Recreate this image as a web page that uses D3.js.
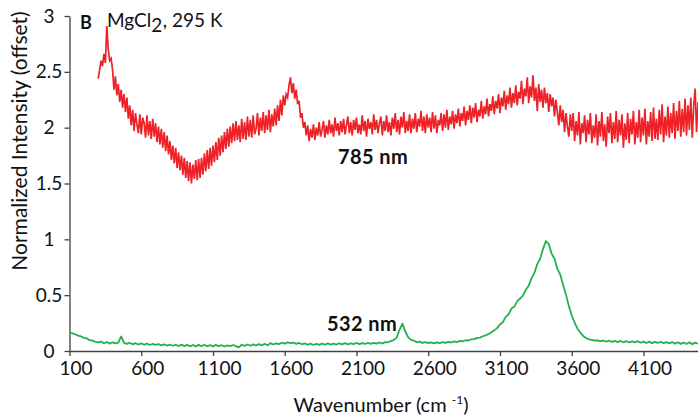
<!DOCTYPE html>
<html>
<head>
<meta charset="utf-8">
<script src="https://cdn.jsdelivr.net/npm/d3@7"></script>
<style>
  html, body { margin: 0; padding: 0; background: #fff; }
  svg { display: block; font-family: Lato, "Open Sans", sans-serif; }
</style>
</head>
<body>
<svg id="chart" width="698" height="420"></svg>
<script>
// Raman spectra of MgCl2 at 295 K, two excitation wavelengths (offset for clarity)

// 785 nm spectrum: sampled every 10 cm-1 starting at 300 cm-1 (one row per 100 cm-1)
const red785Start = 300;
const red785Step = 10;
const red785 = [
  2.44, 2.52, 2.60, 2.55, 2.66, 2.58, 2.91, 2.70, 2.60, 2.62,
  2.52, 2.34, 2.46, 2.29, 2.39, 2.23, 2.34, 2.18, 2.30, 2.14,
  2.27, 2.08, 2.20, 2.02, 2.16, 1.97, 2.13, 2.03, 1.95, 2.12,
  1.94, 2.09, 2.04, 1.91, 2.11, 1.93, 2.06, 1.90, 2.08, 1.92,
  2.04, 1.87, 2.01, 1.85, 1.99, 1.82, 1.96, 1.79, 1.93, 1.76,
  1.88, 1.71, 1.84, 1.68, 1.82, 1.64, 1.78, 1.62, 1.75, 1.58,
  1.73, 1.55, 1.70, 1.52, 1.69, 1.50, 1.67, 1.54, 1.71, 1.53,
  1.72, 1.55, 1.73, 1.58, 1.77, 1.61, 1.80, 1.63, 1.82, 1.66,
  1.84, 1.69, 1.87, 1.71, 1.91, 1.75, 1.93, 1.78, 1.96, 1.81,
  1.99, 1.83, 2.01, 1.86, 2.04, 1.88, 2.06, 1.89, 2.02, 1.87,
  2.08, 1.90, 2.05, 1.89, 2.10, 1.92, 2.07, 1.91, 2.11, 1.94,
  1.99, 2.13, 1.93, 2.09, 1.97, 2.14, 1.95, 2.11, 1.98, 2.16,
  1.96, 2.12, 2.01, 2.17, 2.02, 2.20, 2.06, 2.25, 2.11, 2.29,
  2.20, 2.30, 2.27, 2.38, 2.45, 2.31, 2.40, 2.26, 2.34, 2.21,
  2.24, 2.09, 2.13, 2.00, 2.05, 1.93, 2.02, 1.88, 1.99, 1.91,
  2.03, 1.89, 2.00, 1.93, 2.05, 1.92, 1.98, 2.06, 1.91, 2.02,
  1.94, 2.07, 1.95, 2.03, 1.92, 2.09, 1.97, 2.04, 1.93, 2.06,
  1.96, 2.08, 1.94, 2.02, 2.10, 1.95, 2.05, 1.93, 2.07, 1.98,
  2.09, 1.95, 2.03, 1.94, 2.11, 1.97, 2.06, 1.92, 2.08, 1.99,
  2.05, 1.94, 2.12, 1.98, 2.07, 1.95, 2.04, 2.10, 1.93, 2.06,
  1.97, 2.11, 1.96, 2.05, 1.93, 2.09, 1.99, 2.13, 1.96, 2.07,
  1.94, 2.10, 2.00, 2.14, 1.95, 2.06, 1.97, 2.12, 1.95, 2.08,
  1.99, 2.13, 1.96, 2.08, 2.01, 2.15, 1.97, 2.10, 1.95, 2.12,
  2.00, 2.09, 1.96, 2.14, 1.99, 2.11, 1.95, 2.07, 2.02, 2.13,
  1.97, 2.12, 2.00, 2.16, 1.98, 2.10, 2.03, 2.15, 1.99, 2.12,
  2.04, 2.17, 2.01, 2.13, 2.06, 2.19, 2.02, 2.15, 2.07, 2.20,
  2.04, 2.18, 2.09, 2.22, 2.05, 2.16, 2.10, 2.24, 2.08, 2.19,
  2.12, 2.26, 2.10, 2.21, 2.15, 2.28, 2.12, 2.24, 2.17, 2.30,
  2.13, 2.27, 2.19, 2.33, 2.16, 2.29, 2.21, 2.36, 2.18, 2.31,
  2.22, 2.38, 2.20, 2.32, 2.26, 2.42, 2.21, 2.35, 2.28, 2.45,
  2.22, 2.37, 2.27, 2.47, 2.24, 2.36, 2.15, 2.39, 2.23, 2.34,
  2.18, 2.36, 2.22, 2.31, 2.14, 2.30, 2.19, 2.27, 2.10, 2.25,
  2.14, 2.02, 2.20, 2.05, 2.16, 1.96, 2.13, 2.01, 1.92, 2.12,
  1.97, 2.13, 1.88, 2.06, 1.93, 2.14, 1.85, 2.04, 1.95, 2.11,
  1.87, 2.07, 1.94, 2.13, 1.86, 2.02, 1.91, 2.12, 1.84, 2.06,
  1.92, 2.14, 1.88, 2.03, 1.83, 2.10, 1.95, 2.13, 1.86, 2.05,
  1.90, 2.15, 1.87, 2.07, 1.93, 2.12, 1.82, 2.04, 1.89, 2.13,
  1.86, 2.08, 1.94, 2.15, 1.85, 2.05, 1.91, 2.16, 1.87, 2.09,
  1.93, 2.17, 1.85, 2.06, 1.92, 2.14, 1.88, 2.18, 1.90, 2.08,
  1.89, 2.16, 1.94, 2.21, 1.87, 2.10, 1.93, 2.19, 1.91, 2.13,
  1.95, 2.22, 1.90, 2.15, 1.97, 2.24, 1.92, 2.17, 1.96, 2.26,
  1.93, 2.20, 1.98, 2.27, 1.91, 2.19, 2.35, 1.96, 2.23
];

// 532 nm spectrum: sampled every 20 cm-1 starting at 100 cm-1
const green532Start = 100;
const green532Step = 20;
const green532 = [
  0.165, 0.158, 0.150, 0.138, 0.132, 0.118, 0.112, 0.098, 0.094, 0.082,
  0.078, 0.084, 0.069, 0.080, 0.066, 0.078, 0.068, 0.074, 0.130, 0.072,
  0.064, 0.074, 0.060, 0.070, 0.058, 0.068, 0.056, 0.066, 0.054, 0.064,
  0.055, 0.062, 0.050, 0.060, 0.048, 0.058, 0.047, 0.056, 0.045, 0.057,
  0.044, 0.055, 0.042, 0.054, 0.041, 0.055, 0.043, 0.056, 0.042, 0.054,
  0.040, 0.055, 0.043, 0.052, 0.040, 0.050, 0.044, 0.054, 0.044, 0.032,
  0.056, 0.046, 0.058, 0.047, 0.060, 0.049, 0.062, 0.050, 0.064, 0.052,
  0.070, 0.058, 0.068, 0.062, 0.074, 0.066, 0.078, 0.070, 0.076, 0.064,
  0.072, 0.060, 0.068, 0.056, 0.066, 0.054, 0.064, 0.055, 0.066, 0.056,
  0.068, 0.057, 0.066, 0.058, 0.069, 0.059, 0.070, 0.060, 0.068, 0.061,
  0.072, 0.062, 0.071, 0.063, 0.074, 0.064, 0.073, 0.066, 0.076, 0.068,
  0.080, 0.078, 0.090, 0.098, 0.120, 0.190, 0.245, 0.175, 0.125, 0.100,
  0.092, 0.080, 0.084, 0.072, 0.080, 0.070, 0.078, 0.068, 0.078, 0.070,
  0.080, 0.072, 0.082, 0.076, 0.086, 0.080, 0.090, 0.086, 0.096, 0.094,
  0.105, 0.106, 0.118, 0.120, 0.132, 0.140, 0.152, 0.168, 0.185, 0.205,
  0.238, 0.258, 0.305, 0.328, 0.380, 0.398, 0.446, 0.470, 0.497, 0.548,
  0.585, 0.652, 0.700, 0.778, 0.826, 0.915, 0.985, 0.958, 0.872, 0.826,
  0.735, 0.684, 0.592, 0.505, 0.402, 0.318, 0.255, 0.200, 0.165, 0.135,
  0.115, 0.105, 0.100, 0.092, 0.096, 0.088, 0.094, 0.084, 0.092, 0.082,
  0.090, 0.080, 0.090, 0.078, 0.088, 0.076, 0.086, 0.078, 0.088, 0.074,
  0.085, 0.072, 0.084, 0.070, 0.082, 0.072, 0.083, 0.070, 0.080, 0.068,
  0.080, 0.066, 0.078, 0.064, 0.076, 0.062, 0.078, 0.060, 0.075, 0.066
];

const xTicks = [100, 600, 1100, 1600, 2100, 2600, 3100, 3600, 4100];
const yTicks = [0, 0.5, 1, 1.5, 2, 2.5, 3];

const svg = d3.select("#chart");

const x = d3.scaleLinear().domain([100, 4480]).range([69.5, 698]);
const y = d3.scaleLinear().domain([0, 3]).range([351, 16]);

const axisColor = "#404040";
const textColor = "#111";

// X axis
const gx = svg.append("g")
  .attr("transform", `translate(0,${y(0)})`)
  .call(d3.axisBottom(x).tickValues(xTicks).tickFormat(d3.format("d"))
    .tickSize(5).tickSizeOuter(0).tickPadding(6));
gx.select(".domain").attr("stroke", axisColor).attr("stroke-width", 1.3);
gx.selectAll(".tick line").attr("stroke", axisColor).attr("stroke-width", 1.3);
gx.selectAll(".tick text").attr("fill", textColor).attr("font-size", 19)
  .attr("font-family", "Lato, sans-serif").attr("x", 6);

// Y axis
const gy = svg.append("g")
  .attr("transform", `translate(${x(100)},0)`)
  .call(d3.axisLeft(y).tickValues(yTicks).tickFormat(d => String(d))
    .tickSize(5).tickSizeOuter(0).tickPadding(6));
gy.select(".domain").attr("stroke", axisColor).attr("stroke-width", 1.3);
gy.selectAll(".tick line").attr("stroke", axisColor).attr("stroke-width", 1.3);
gy.selectAll(".tick text").attr("fill", textColor).attr("font-size", 19)
  .attr("font-family", "Lato, sans-serif")
  .attr("text-anchor", "middle").attr("x", -20.5);

// Spectra
const line = d3.line().x(d => x(d[0])).y(d => y(d[1]));
const redPts = red785.map((v, i) => [red785Start + i * red785Step, v]);
const greenPts = green532.map((v, i) => [green532Start + i * green532Step, v]);

svg.append("path").datum(greenPts)
  .attr("d", line).attr("fill", "none")
  .attr("stroke", "#22b14c").attr("stroke-width", 1.8)
  .attr("stroke-linejoin", "round");

svg.append("path").datum(redPts)
  .attr("d", line).attr("fill", "none")
  .attr("stroke", "#ee2127").attr("stroke-width", 1.7)
  .attr("stroke-linejoin", "miter");

// Axis titles
svg.append("text")
  .attr("transform", "translate(27,141) rotate(-90)")
  .attr("text-anchor", "middle").attr("font-size", 21).attr("fill", textColor)
  .text("Normalized Intensity (offset)");

const xt = svg.append("text")
  .attr("x", 381).attr("y", 412).attr("text-anchor", "middle")
  .attr("font-size", 20).attr("fill", textColor);
xt.append("tspan").text("Wavenumber (cm ");
xt.append("tspan").attr("font-size", 12).attr("dy", -8).text("-1");
xt.append("tspan").attr("dy", 8).text(")");

// Panel label and sample
svg.append("text").attr("x", 80).attr("y", 29)
  .attr("font-size", 18).attr("font-weight", "bold").attr("fill", textColor).text("B");
const st = svg.append("text").attr("x", 107).attr("y", 27)
  .attr("font-size", 19).attr("fill", textColor);
st.append("tspan").text("MgCl");
st.append("tspan").attr("dy", 5).text("2");
st.append("tspan").attr("dy", -5).attr("dx", 0.5).text(", 295 K");

// Series labels
svg.append("text").attr("x", 338).attr("y", 164)
  .attr("font-size", 20).attr("font-weight", "bold").attr("fill", textColor)
  .attr("letter-spacing", 0.4).text("785 nm");
svg.append("text").attr("x", 327).attr("y", 331)
  .attr("font-size", 20).attr("font-weight", "bold").attr("fill", textColor)
  .attr("letter-spacing", 0.4).text("532 nm");
</script>
</body>
</html>
